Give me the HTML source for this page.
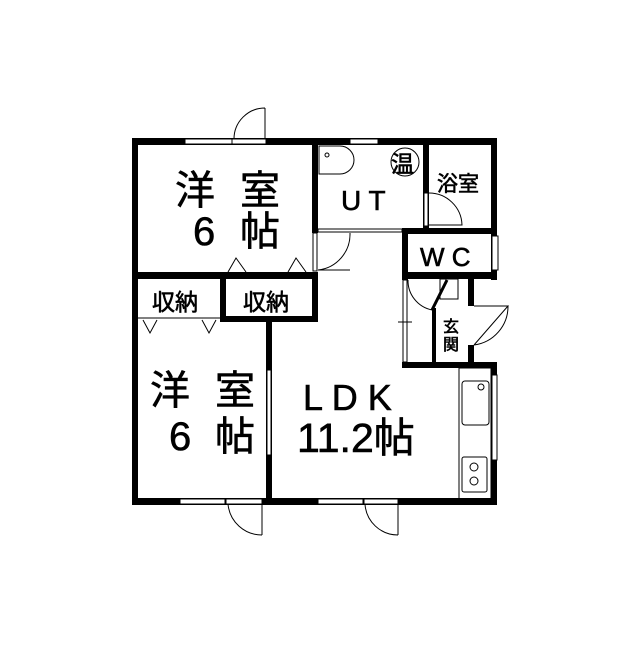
<!DOCTYPE html>
<html><head><meta charset="utf-8"><style>
html,body{margin:0;padding:0;background:#fff;}
svg text{font-family:"Liberation Sans","Noto Sans CJK JP",sans-serif;fill:#000;}
</style></head><body>
<svg width="640" height="640" viewBox="0 0 640 640" xmlns="http://www.w3.org/2000/svg">
<rect width="640" height="640" fill="#fff"/>
<g fill="#000">
<rect x="132" y="138" width="365" height="7"/>
<rect x="132" y="138" width="6" height="367"/>
<rect x="132" y="498" width="365" height="7"/>
<rect x="491" y="138" width="6" height="142"/>
<rect x="491" y="362" width="6" height="143"/>
<rect x="312" y="138" width="6" height="95"/>
<rect x="312" y="272" width="6" height="50"/>
<rect x="132" y="272" width="186" height="7"/>
<rect x="220" y="272" width="6" height="50"/>
<rect x="226" y="316" width="92" height="6"/>
<rect x="266" y="316" width="6" height="189"/>
<rect x="423" y="138" width="6" height="92"/>
<rect x="402" y="228" width="95" height="6"/>
<rect x="402" y="228" width="6" height="52"/>
<rect x="402" y="272" width="95" height="7"/>
<rect x="468" y="278" width="6" height="28"/>
<rect x="468" y="345" width="6" height="20"/>
<rect x="432" y="308" width="4" height="57"/>
<rect x="402" y="362" width="95" height="6"/>
</g>
<g fill="#fff" stroke="#000" stroke-width="1">
<rect x="185" y="139" width="47" height="5"/>
<rect x="232" y="139" width="34" height="5"/>
<rect x="350" y="139" width="28" height="5"/>
<rect x="180" y="499" width="45" height="5"/>
<rect x="226" y="499" width="36" height="5"/>
<rect x="318" y="499" width="45" height="5"/>
<rect x="364" y="499" width="34" height="5"/>
<rect x="267" y="370" width="4" height="85"/>
<rect x="492" y="375" width="5" height="85"/>
<rect x="492" y="236" width="6" height="34"/>
<rect x="424" y="193" width="4" height="33"/>
<rect x="313" y="233" width="4" height="38"/>
<rect x="318" y="229" width="84" height="3"/>
<rect x="403" y="280" width="4" height="82"/>
</g>
<g fill="none" stroke="#000" stroke-width="1">
<path d="M265 108 L265 139 M265 108 A31 31 0 0 0 234 139"/>
<path d="M262 535 L262 504 M262 535 A34 34 0 0 1 228 504"/>
<path d="M398 535 L398 504 M398 535 A33 33 0 0 1 365 504"/>
<path d="M318 270 L350 270 M318 270 A36 36 0 0 0 350 233" />
<path d="M429 225 L462 225 A33 33 0 0 0 429 193"/>
<path d="M474 345 L508 306 L474 306 M474 345 A39 39 0 0 0 508 306"/>
<path d="M408 280 A30 30 0 0 0 432 310"/>
<line x1="432" y1="310" x2="447" y2="280" stroke-width="3"/>
<rect x="440" y="279" width="18" height="20"/>
<path d="M228 272 L236 258 L246 272 M288 272 L296 258 L306 272"/>
<path d="M143 320 L150 333 L157 320 M202 320 L209 333 L216 320"/>
<line x1="138" y1="318" x2="220" y2="318"/>
<path d="M319 146 L340 146 A14 14 0 0 1 340 174 L319 174 Z"/>
<circle cx="327" cy="155" r="2"/>
<circle cx="405" cy="162" r="14"/>
<rect x="459" y="368" width="32" height="131"/>
<rect x="462" y="381" width="27" height="44" rx="3"/>
<circle cx="481" cy="387" r="3"/>
<rect x="462" y="457" width="25" height="35" rx="2"/>
<circle cx="474" cy="467" r="4"/>
<circle cx="474" cy="481" r="4"/>
<line x1="398" y1="322" x2="412" y2="322"/>
</g>
<g stroke="#000" stroke-width="0.6">
<text x="175" y="204" font-size="40">洋</text>
<text x="240" y="204" font-size="40">室</text>
<text x="193" y="245" font-size="40">6</text>
<text x="240" y="245" font-size="40">帖</text>
<text x="152" y="310" font-size="23">収納</text>
<text x="243" y="310" font-size="23">収納</text>
<text x="341" y="210" font-size="28">U T</text>
<text x="391" y="172" font-size="23">温</text>
<text x="437" y="191" font-size="21">浴室</text>
<text x="420" y="266" font-size="26">W C</text>
<text x="443" y="332" font-size="16">玄</text>
<text x="443" y="350" font-size="16">関</text>
<text x="150" y="404" font-size="40">洋</text>
<text x="215" y="404" font-size="40">室</text>
<text x="169" y="450" font-size="40">6</text>
<text x="215" y="450" font-size="40">帖</text>
<text x="303" y="410" font-size="36">L D K</text>
<text x="297" y="452" font-size="41">11.2帖</text>
</g>
</svg>
</body></html>
